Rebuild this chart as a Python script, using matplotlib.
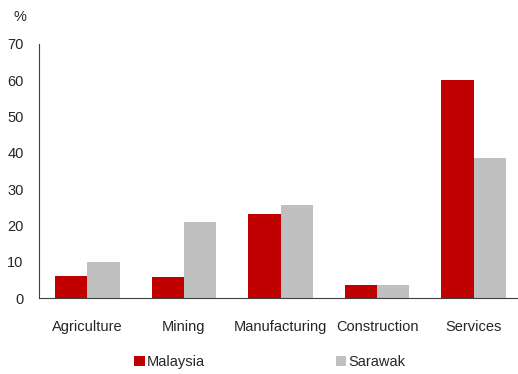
import matplotlib
matplotlib.use("Agg")
import matplotlib.pyplot as plt
import numpy as np

categories = ["Agriculture", "Mining", "Manufacturing", "Construction", "Services"]
malaysia = [6.1, 5.8, 23.1, 3.7, 60.0]
sarawak = [10.0, 20.9, 25.6, 3.7, 38.6]
yticks = [0, 10, 20, 30, 40, 50, 60, 70]

red = "#c00000"
grey = "#c0c0c0"

plt.rcParams["font.family"] = ["Liberation Sans", "DejaVu Sans"]

fig = plt.figure(figsize=(5.18, 3.74), dpi=100)
# axes runs a little past the right edge, like the cropped original
ax = fig.add_axes([39/518, 76/374, 483/518, 254/374])

x = np.arange(len(categories))
w = 0.335
ax.bar(x - w/2, malaysia, w, color=red, label="Malaysia")
ax.bar(x + w/2, sarawak, w, color=grey, label="Sarawak")

ax.set_xlim(-0.5, len(categories) - 0.5)
ax.set_ylim(0, 70)
ax.set_yticks(yticks)
ax.set_xticks(x)
ax.set_xticklabels(categories)
ax.tick_params(axis="both", length=0, labelsize=10.5, labelcolor="#262626")
ax.tick_params(axis="x", pad=16)
ax.tick_params(axis="y", pad=11)

for s in ["top", "right"]:
    ax.spines[s].set_visible(False)
for s in ["left", "bottom"]:
    ax.spines[s].set_color("#404040")
    ax.spines[s].set_linewidth(0.8)

fig.text(14/518, 1 - 17/374, "%", fontsize=10.5, color="#262626", va="center")

fig.legend(loc="center", bbox_to_anchor=(270/518, 12/374), ncol=2, frameon=False,
           fontsize=10.5, handlelength=0.7, handleheight=0.7, handletextpad=0.15,
           columnspacing=9.0, labelcolor="#262626")

fig.savefig("out.png", dpi=100)
